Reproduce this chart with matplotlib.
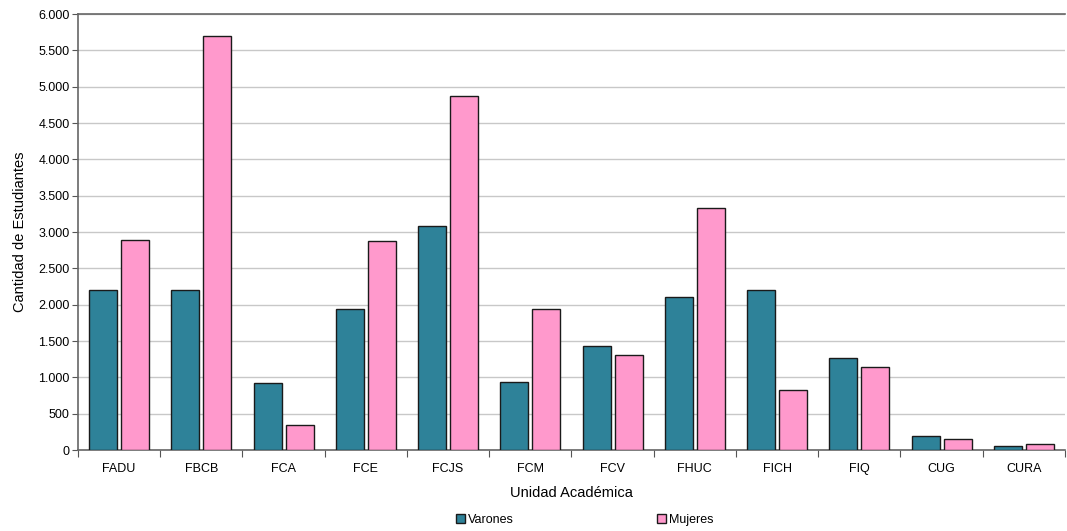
import matplotlib.pyplot as plt
import numpy as np
from matplotlib.ticker import FuncFormatter
from matplotlib.patches import Patch

plt.rcParams['font.family'] = ['Liberation Sans', 'DejaVu Sans']

# Data: students per academic unit, by sex
unidades = ["FADU", "FBCB", "FCA", "FCE", "FCJS", "FCM", "FCV",
            "FHUC", "FICH", "FIQ", "CUG", "CURA"]
varones = [2200, 2200, 920, 1940, 3085, 935, 1430, 2105, 2200, 1265, 190, 55]
mujeres = [2895, 5705, 345, 2875, 4870, 1940, 1305, 3330, 825, 1140, 150, 80]

c_var = '#2E8299'
c_muj = '#FF99CC'

fig = plt.figure(figsize=(10.67, 5.31), dpi=100)
ax = fig.add_axes([0.0731, 0.1525, 0.925, 0.821])

x = np.arange(len(unidades))
width = 0.34
ax.bar(x - width/2 - 0.025, varones, width, color=c_var, edgecolor='#1a1a1a', linewidth=1.0, zorder=3)
ax.bar(x + width/2 + 0.025, mujeres, width, color=c_muj, edgecolor='#1a1a1a', linewidth=1.0, zorder=3)

ax.set_xlim(-0.5, len(unidades) - 0.5)
ax.set_ylim(0, 6000)
ax.set_yticks(np.arange(0, 6001, 500))
ax.yaxis.set_major_formatter(FuncFormatter(lambda v, p: f"{int(v):,}".replace(",", ".")))
ax.grid(axis='y', color='#c8c8c8', linewidth=1.0, zorder=0)

# tick marks at category boundaries, labels centered
ax.set_xticks(np.arange(-0.5, len(unidades) - 0.4, 1))
ax.set_xticklabels([])
ax.set_xticks(x, minor=True)
ax.set_xticklabels(unidades, minor=True)
ax.tick_params(axis='x', which='major', length=5, color='#555555')
ax.tick_params(axis='x', which='minor', length=0, pad=9, labelsize=9)
ax.tick_params(axis='y', length=4, color='#555555', labelsize=9, pad=2)

for s in ['left', 'bottom', 'top']:
    ax.spines[s].set_color('#666666')
    ax.spines[s].set_linewidth(1.2)
ax.spines['right'].set_visible(False)

ax.set_xlabel('Unidad Académica', fontsize=10.5, labelpad=8)
ax.set_ylabel('Cantidad de Estudiantes', fontsize=10.5, labelpad=8)

handles = [Patch(facecolor=c_var, edgecolor='#1a1a1a'), Patch(facecolor=c_muj, edgecolor='#1a1a1a')]
fig.legend(handles, ['Varones', 'Mujeres'], loc='lower center', bbox_to_anchor=(0.548, -0.012),
           ncol=2, frameon=False, fontsize=9, handlelength=0.7, handleheight=0.7,
           handletextpad=0.2, columnspacing=11.5)

fig.savefig('out.png', dpi=100)
